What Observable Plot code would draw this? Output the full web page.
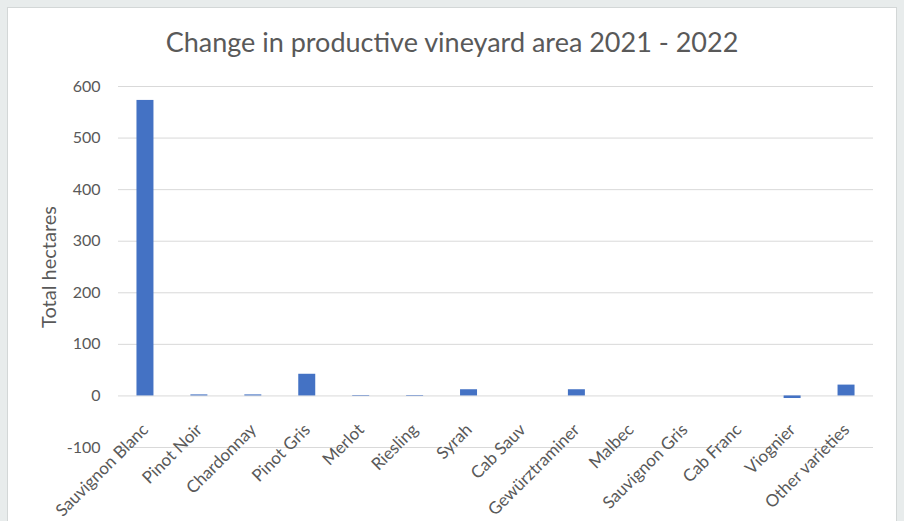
<!DOCTYPE html>
<html>
<head>
<meta charset="utf-8">
<script src="https://cdn.jsdelivr.net/npm/d3@7"></script>
<script src="https://cdn.jsdelivr.net/npm/@observablehq/plot@0.6"></script>
<style>
  html, body { margin: 0; padding: 0; }
  body { width: 904px; height: 521px; background: #e8ecec; position: relative; overflow: hidden; font-family: Lato, "Open Sans", sans-serif; }
  #panel { position: absolute; left: 7px; top: 7px; width: 888px; height: 530px; background: #fff; border: 1px solid #d3d7d7; }
  #title { position: absolute; left: 0; top: 20px; width: 888px; text-align: center; font-size: 27px; line-height: 1; color: #595959; }
  #chart { position: absolute; left: 0; top: 60px; }
</style>
</head>
<body>
<div id="panel">
  <div id="title">Change in productive vineyard area 2021 - 2022</div>
  <div id="chart"></div>
</div>
<script>
const categories = ["Sauvignon Blanc", "Pinot Noir", "Chardonnay", "Pinot Gris", "Merlot", "Riesling", "Syrah", "Cab Sauv", "Gewürztraminer", "Malbec", "Sauvignon Gris", "Cab Franc", "Viognier", "Other varieties"];
const values = [573, 2, 2, 42, -1, -1, 12, 0, 12, 0, 0, 0, -5, 21];
const yTicks = [-100, 0, 100, 200, 300, 400, 500, 600];
const yLabel = "Total hectares";

const data = categories.map((c, i) => ({category: c, value: values[i]}));

const chart = Plot.plot({
  width: 888,
  height: 453,
  marginLeft: 110,
  marginRight: 23,
  marginTop: 18,
  marginBottom: 74,
  style: {fontFamily: "Lato, 'Open Sans', sans-serif", fontSize: "16px", color: "#595959", background: "transparent", overflow: "visible"},
  x: {domain: categories, paddingInner: 0.685, paddingOuter: 0.3425, round: false, axis: null},
  y: {domain: [-100, 600], axis: null},
  marks: [
    Plot.ruleY(yTicks, {stroke: "#d9d9d9", strokeWidth: 1}),
    Plot.axisY({ticks: yTicks, tickSize: 0, tickPadding: 18, fontSize: 16, fill: "#595959", label: null, tickFormat: d => d < 0 ? "-" + Math.abs(d) : String(d)}),
    Plot.barY(data, {x: "category", y: "value", fill: "#4472c4"}),
    Plot.text(categories, {x: d => d, y: () => 0, rotate: -45, textAnchor: "end", dx: 0, dy: 31, fontSize: 17, fill: "#595959"}),
    Plot.text([yLabel], {frameAnchor: "left", textAnchor: "middle", dx: -69, rotate: -90, fontSize: 20, fill: "#595959"})
  ]
});
document.getElementById("chart").appendChild(chart);
</script>
</body>
</html>
